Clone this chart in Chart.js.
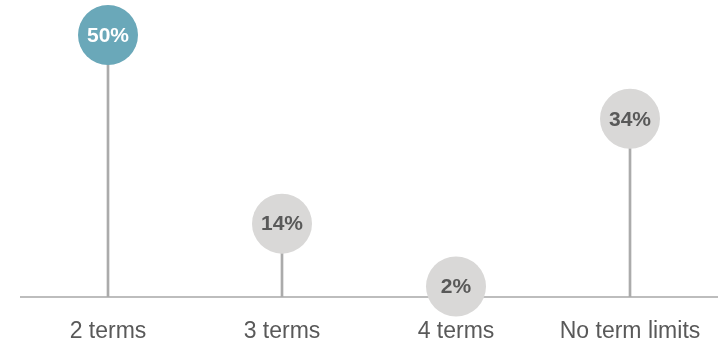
<!DOCTYPE html>
<html>
<head>
<meta charset="utf-8">
<script src="https://cdn.jsdelivr.net/npm/chart.js@4/dist/chart.umd.min.js"></script>
<style>
  html, body { margin: 0; padding: 0; background: #fff; }
  #wrap { width: 719px; height: 349px; }
</style>
</head>
<body>
<div id="wrap"><canvas id="c" width="719" height="349"></canvas></div>
<script>
const categories = ['2 terms', '3 terms', '4 terms', 'No term limits'];
const shares = [50, 14, 2, 34];
const bubbleColors = ['#6aa8b9', '#d9d8d7', '#d9d8d7', '#d9d8d7'];
const labelColors = ['#ffffff', '#595959', '#595959', '#595959'];

const FONT = "'Liberation Sans', Arial, sans-serif";

// Writes the percentage inside each bubble
const bubbleLabels = {
  id: 'bubbleLabels',
  afterDatasetsDraw(chart) {
    const meta = chart.getDatasetMeta(1);
    const ctx = chart.ctx;
    ctx.save();
    ctx.font = 'bold 21px ' + FONT;
    ctx.textAlign = 'center';
    ctx.textBaseline = 'middle';
    meta.data.forEach((pt, i) => {
      ctx.fillStyle = labelColors[i];
      ctx.fillText(shares[i] + '%', pt.x, pt.y + 1);
    });
    ctx.restore();
  }
};

new Chart(document.getElementById('c'), {
  type: 'bar',
  data: {
    labels: categories,
    datasets: [
      {
        type: 'bar',
        data: shares,
        backgroundColor: '#ababab',
        barThickness: 2,
        order: 2
      },
      {
        type: 'line',
        data: shares,
        showLine: false,
        pointRadius: 30,
        pointHoverRadius: 30,
        pointBorderWidth: 0,
        pointBackgroundColor: bubbleColors,
        clip: false,
        order: 1
      }
    ]
  },
  options: {
    responsive: false,
    animation: false,
    events: [],
    layout: { autoPadding: false, padding: { left: 21, right: 2, top: 35, bottom: 0 } },
    plugins: { legend: { display: false }, tooltip: { enabled: false } },
    scales: {
      x: {
        grid: { display: false, drawTicks: false },
        border: { color: '#bdbdbd', width: 2 },
        ticks: {
          color: '#595959',
          font: { family: FONT, size: 23 },
          padding: 21,
          maxRotation: 0,
          minRotation: 0,
          autoSkip: false
        },
        // the axis spans the full width below the plot
        afterFit(scale) {
          scale.paddingLeft = 0;
          scale.paddingRight = 0;
          scale.height = 52;
        }
      },
      y: {
        display: false,
        min: 0,
        max: 50
      }
    }
  },
  plugins: [bubbleLabels]
});
</script>
</body>
</html>
